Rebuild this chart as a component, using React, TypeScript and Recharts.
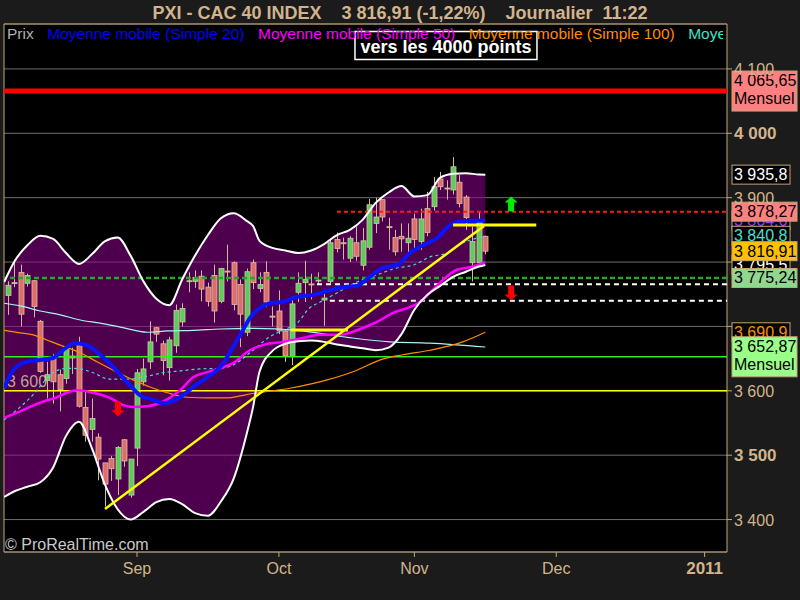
import React from 'react';
import {
  ComposedChart,
  Bar,
  Line,
  Area,
  XAxis,
  YAxis,
  CartesianGrid,
  ReferenceLine,
  ReferenceDot,
  ReferenceArea,
} from 'recharts';

// daily candles, index 0 = 4 Aug 2010, 74 = 16 Nov 2010
const opens = [
  3748, 3767, 3784, 3767, 3771, 3708, 3616, 3653, 3625, 3619,
  3654, 3670, 3574, 3540, 3528, 3488, 3495, 3463, 3524, 3438,
  3511, 3614, 3645, 3698, 3673, 3636, 3670, 3707, 3770, 3770,
  3778, 3761, 3779, 3739, 3786, 3799, 3765, 3691, 3799, 3759,
  3784, 3716, 3724, 3693, 3653, 3753, 3768, 3766, 3771, 3741,
  3770, 3835, 3830, 3806, 3830, 3795, 3823, 3860, 3897, 3855,
  3838, 3840, 3830, 3867, 3832, 3883, 3886, 3929, 3915, 3912,
  3924, 3901, 3799, 3799, 3840,
];
const closes = [
  3764, 3768, 3719, 3779, 3731, 3630, 3625, 3614, 3602, 3667,
  3651, 3576, 3531, 3557, 3494, 3455, 3479, 3512, 3491, 3494,
  3628, 3634, 3676, 3688, 3647, 3679, 3725, 3728, 3771, 3776,
  3758, 3739, 3724, 3790, 3785, 3734, 3719, 3785, 3768, 3765,
  3738, 3715, 3693, 3654, 3735, 3767, 3773, 3765, 3772, 3744,
  3830, 3821, 3829, 3837, 3809, 3833, 3889, 3870, 3870, 3854,
  3816, 3836, 3837, 3835, 3867, 3846, 3917, 3917, 3914, 3948,
  3891, 3869, 3832, 3863, 3816.91,
];
const highs = [
  3770, 3804, 3796, 3782, 3772, 3710, 3645, 3657, 3633, 3670,
  3667, 3684, 3599, 3588, 3534, 3488, 3499, 3514, 3525, 3494,
  3634, 3650, 3708, 3699, 3678, 3684, 3734, 3736, 3784, 3787,
  3787, 3768, 3796, 3791, 3827, 3801, 3773, 3790, 3804, 3784,
  3801, 3731, 3756, 3696, 3747, 3784, 3802, 3782, 3784, 3751,
  3835, 3846, 3838, 3840, 3855, 3853, 3898, 3900, 3897, 3869,
  3850, 3860, 3860, 3875, 3883, 3909, 3932, 3940, 3927, 3963,
  3935, 3904, 3855, 3878, 3841,
];
const lows = [
  3718, 3761, 3700, 3762, 3714, 3628, 3588, 3580, 3568, 3611,
  3626, 3574, 3521, 3521, 3461, 3420, 3460, 3438, 3482, 3434,
  3483, 3608, 3634, 3676, 3624, 3616, 3659, 3700, 3753, 3760,
  3739, 3731, 3706, 3736, 3770, 3725, 3668, 3685, 3758, 3753,
  3730, 3700, 3688, 3645, 3640, 3738, 3738, 3742, 3766, 3701,
  3767, 3815, 3804, 3800, 3802, 3787, 3819, 3845, 3863, 3819,
  3810, 3816, 3815, 3819, 3819, 3840, 3880, 3912, 3897, 3905,
  3885, 3850, 3770, 3793, 3812,
];

// Bollinger bands
const bandIdx = [
  -0.6, 1, 3, 5, 7, 9, 11, 13, 15, 17, 19, 21, 23, 25, 27, 29, 31, 33, 35, 37,
  38, 39, 41, 43, 45, 47, 49, 51, 53, 55, 57, 59, 61, 63, 65, 67, 69, 71, 73, 74,
];
const bandUpper = [
  3769, 3801, 3826, 3841, 3836, 3814, 3797, 3812, 3832, 3838, 3810, 3770, 3743, 3733, 3773, 3810, 3842, 3868, 3876, 3864,
  3856, 3833, 3822, 3818, 3814, 3818, 3828, 3842, 3850, 3866, 3892, 3908, 3918, 3902, 3904, 3931, 3937, 3938, 3936, 3935.8,
];
const bandLower = [
  3435, 3444, 3451, 3458, 3481, 3530, 3552, 3511, 3455, 3416, 3400, 3412, 3427, 3432, 3424, 3410, 3406, 3428, 3464, 3533,
  3575, 3630, 3662, 3673, 3677, 3678, 3676, 3672, 3669, 3666, 3663, 3667, 3688, 3726, 3749, 3763, 3777, 3785, 3793, 3795.5,
];

// moving averages: [index, value]
const ma20: [number, number][] = [
  [-0.6, 3604], [0.8, 3632], [2.9, 3645], [5, 3648], [7, 3651], [8.5, 3663], [10.4, 3674], [12.2, 3671],
  [14.3, 3656], [16.3, 3637], [18.4, 3614], [20.5, 3593], [22.5, 3586], [24, 3581], [26.7, 3590], [28.7, 3606],
  [30.9, 3621], [32.9, 3637], [34.9, 3668], [36.4, 3694], [37.5, 3713], [39.1, 3729], [40.6, 3736], [42.6, 3738],
  [44.8, 3746], [47.3, 3749], [49.5, 3755], [51.9, 3761], [54.1, 3763], [56.1, 3777], [58.1, 3791], [60.3, 3795],
  [62.3, 3814], [64.3, 3826], [66.5, 3837], [68.5, 3857], [69.6, 3862], [71.6, 3864], [74, 3864.6],
];
const ma50: [number, number][] = [
  [-0.6, 3558], [1.4, 3566], [3.4, 3575], [5.4, 3583], [7.6, 3590], [9.1, 3597], [10.7, 3601], [13.2, 3597],
  [15.8, 3589], [17.8, 3578], [19.4, 3575], [21.6, 3576], [24, 3583], [26.7, 3601], [28.7, 3621], [30.9, 3629],
  [32.9, 3635], [34.9, 3643], [37.5, 3663], [39.5, 3671], [42.6, 3676], [45.7, 3682], [48.4, 3687], [51.5, 3687],
  [54.1, 3694], [57.2, 3707], [59.7, 3721], [62.3, 3730], [63.9, 3738], [65.4, 3752], [67.4, 3772], [69.6, 3788],
  [71.6, 3792], [74, 3800],
];
const ma100: [number, number][] = [
  [-0.6, 3694], [1.9, 3690], [3.9, 3687], [6, 3679], [8.1, 3671], [11.2, 3659], [13.8, 3645], [16.3, 3632],
  [19.4, 3617], [22, 3606], [24.7, 3597], [27.8, 3590], [30.9, 3589], [34, 3589], [36, 3592], [37.5, 3595],
  [43.7, 3604], [49.5, 3617], [54.1, 3632], [57.7, 3648], [61.2, 3656], [65.4, 3663], [70.5, 3676], [74, 3690.9],
];
const ma200: [number, number][] = [
  [-0.6, 3736], [1.9, 3732], [5, 3724], [8.1, 3718], [11.2, 3710], [14.3, 3705], [17.4, 3699], [21.6, 3691],
  [24.7, 3693], [28.7, 3694], [32.9, 3696], [37.5, 3697], [44.8, 3694], [52.6, 3683], [59.2, 3676], [65.4, 3674],
  [74, 3668],
];
const cyanDash: [number, number][] = [
  [-0.6, 3555], [1.9, 3575], [3.9, 3594], [5.4, 3612], [7, 3628], [9.1, 3635], [11.2, 3634], [13.2, 3628],
  [15.8, 3618], [18.4, 3618], [20.9, 3621], [24, 3628], [26.7, 3631], [29.8, 3634], [32.9, 3635], [34.9, 3640],
  [37.5, 3659], [40.6, 3684], [42.6, 3694], [44.8, 3705], [46.8, 3729], [48.4, 3738], [51, 3752], [54.1, 3769],
  [57.2, 3780], [60.3, 3791], [62.8, 3795], [65.4, 3808], [68.1, 3814], [70.5, 3830], [72.7, 3837], [74, 3840.8],
];

const monthTicks = [20, 42, 63, 85, 108];
const monthLabels = ['Sep', 'Oct', 'Nov', 'Dec', '2011'];
const priceTicks = [3400, 3500, 3600, 3700, 3800, 3900, 4000, 4100];
const boldPrices = [3500, 4000];
const hiddenPrices = [3700, 3800];

const TAN = '#d2b48c';
const FRAME = '#c4a574';
const FONT = "'Liberation Sans', Arial, sans-serif";
const X_DOMAIN = [-0.62, 111.47];
const Y_DOMAIN = [3349.6, 4169.8];
const BODY_W = 5;

const candles = opens.map((o, i) => ({
  i,
  o,
  c: closes[i],
  h: highs[i],
  l: lows[i],
  range: [lows[i], highs[i]],
}));
const pts = (arr: [number, number][]) => arr.map(([i, v]) => ({ i, v }));
const band = bandIdx.map((i, k) => ({ i, lo: bandLower[k], hi: bandUpper[k], r: [bandLower[k], bandUpper[k]] }));

const fmt = (v: number) => {
  const s = String(v);
  return s.length > 1 ? s[0] + ' ' + s.slice(1) : s;
};

function Candle(props: any) {
  const { x, y, width, height, payload } = props;
  if (x == null || payload == null) return null;
  const top = Math.min(y, y + height);
  const h = Math.abs(height);
  const span = payload.h - payload.l || 1;
  const k = h / span;
  const yOf = (v: number) => top + (payload.h - v) * k;
  const bTop = yOf(Math.max(payload.o, payload.c));
  const bBot = yOf(Math.min(payload.o, payload.c));
  const up = payload.c >= payload.o;
  const cx = Math.round(x + (width || 0) / 2) + 0.5;
  return (
    <g>
      <line x1={cx} x2={cx} y1={top} y2={top + h} stroke="#cdbb9c" strokeWidth={1} />
      <rect
        x={cx - BODY_W / 2}
        y={bTop}
        width={BODY_W}
        height={Math.max(bBot - bTop, 1)}
        fill={up ? '#5ccc5c' : '#e06c6c'}
        stroke="#d6c4a4"
        strokeWidth={0.8}
      />
    </g>
  );
}

function PriceTag(props: any) {
  const { viewBox, lines, bg, fg, w } = props;
  if (!viewBox) return null;
  const x = viewBox.x + viewBox.width + 5;
  const h = lines.length > 1 ? 40 : 19;
  const top = viewBox.y - h / 2;
  return (
    <g>
      <rect x={x} y={top} width={w} height={h} fill={bg} stroke={FRAME} strokeWidth={1} />
      {lines.map((t: string, k: number) => (
        <text key={k} x={x + 2} y={top + 15 + k * 18} fill={fg} fontSize={16} fontFamily={FONT}>
          {t}
        </text>
      ))}
    </g>
  );
}

function LineLabel(props: any) {
  const { viewBox, text } = props;
  if (!viewBox) return null;
  return (
    <text x={viewBox.x + 3} y={viewBox.y - 4} fill="#d8c4a0" fillOpacity={0.85} fontSize={16} fontFamily={FONT}>
      {text}
    </text>
  );
}

const arrow = (dir: 'up' | 'down', color: string) => (p: any) => {
  const { cx, cy } = p;
  const s = dir === 'up' ? -1 : 1;
  const tip = cy + s * 7.5;
  const base = cy - s * 7.5;
  const neck = cy + s * 1.5;
  return (
    <path
      d={`M${cx - 3},${base} L${cx + 3},${base} L${cx + 3},${neck} L${cx + 6.5},${neck} L${cx},${tip} L${cx - 6.5},${neck} L${cx - 3},${neck} Z`}
      fill={color}
    />
  );
};

const noteBox = (p: any) => {
  const { cx, cy } = p;
  return (
    <g>
      <rect x={cx - 91} y={cy - 14} width={182} height={28} fill="#000" stroke="#fff" strokeWidth={1.5} />
      <text x={cx} y={cy + 7} textAnchor="middle" fill="#fff" fontSize={18} fontWeight="bold" fontFamily={FONT}>
        vers les 4000 points
      </text>
    </g>
  );
};

function PriceTick(props: any) {
  const { x, y, payload } = props;
  const v = payload.value;
  if (hiddenPrices.includes(v)) return null;
  const bold = boldPrices.includes(v);
  return (
    <text x={x} y={y} dy={6} fill={TAN} fontSize={bold ? 17 : 16} fontWeight={bold ? 'bold' : 'normal'} fontFamily={FONT}>
      {fmt(v)}
    </text>
  );
}

function MonthTick(props: any) {
  const { x, y, payload } = props;
  const k = monthTicks.indexOf(payload.value);
  const bold = k === monthTicks.length - 1;
  return (
    <text x={x} y={y + 15} textAnchor="middle" fill={TAN} fontSize={bold ? 17 : 16} fontWeight={bold ? 'bold' : 'normal'} fontFamily={FONT}>
      {monthLabels[k]}
    </text>
  );
}

const legendItems = [
  { text: 'Prix', color: '#b0b0b0' },
  { text: 'Moyenne mobile (Simple 20)', color: '#0000ff' },
  { text: 'Moyenne mobile (Simple 50)', color: '#ff00ff' },
  { text: 'Moyenne mobile (Simple 100)', color: '#ff8c00' },
  { text: 'Moyenne mobile (Simple 200)', color: '#40e0c8' },
];

export default function App() {
  return (
    <div style={{ position: 'absolute', left: 0, top: 0, width: 800, height: 600, background: '#1b1b1b', fontFamily: FONT }}>
      <ComposedChart
        width={800}
        height={600}
        data={candles}
        margin={{ top: 24, right: 3, bottom: 18, left: 4 }}
      >
        <CartesianGrid horizontal vertical={false} stroke="#6e6e6e" fill="#000" />
        <XAxis
          dataKey="i"
          type="number"
          domain={X_DOMAIN}
          allowDataOverflow
          ticks={monthTicks}
          tick={<MonthTick />}
          axisLine={false}
          tickLine={{ stroke: FRAME }}
          tickSize={5}
          height={30}
        />
        <YAxis
          orientation="right"
          type="number"
          domain={Y_DOMAIN}
          allowDataOverflow
          ticks={priceTicks}
          tick={<PriceTick />}
          axisLine={false}
          tickLine={{ stroke: FRAME }}
          tickSize={5}
          width={70}
        />
        <Area
          data={band}
          dataKey="r"
          type="monotone"
          stroke="none"
          fill="#8e008e"
          fillOpacity={0.55}
          isAnimationActive={false}
        />
        <ReferenceLine y={4065.65} stroke="#ff0000" strokeWidth={5} />
        <ReferenceLine y={3652.87} stroke="#33ee22" strokeWidth={1.5} />
        <ReferenceLine y={3600} stroke="#ffff00" strokeWidth={1.5} label={<LineLabel text="3 600" />} />
        <ReferenceLine y={3775.24} stroke="#22aa22" strokeWidth={2.5} strokeDasharray="5 3" />
        <ReferenceLine segment={[{ x: 47.9, y: 3765.5 }, { x: X_DOMAIN[1], y: 3765.5 }]} stroke="#ffffff" strokeWidth={2} strokeDasharray="5 4" />
        <ReferenceLine segment={[{ x: 49.9, y: 3740 }, { x: X_DOMAIN[1], y: 3740 }]} stroke="#ffffff" strokeWidth={2} strokeDasharray="5 4" />
        <ReferenceLine segment={[{ x: 51, y: 3878.27 }, { x: X_DOMAIN[1], y: 3878.27 }]} stroke="#ff1a1a" strokeWidth={2} strokeDasharray="4 3" />
        <Bar dataKey="range" barSize={BODY_W} shape={<Candle />} isAnimationActive={false} />
        <Line data={pts(ma200)} dataKey="v" type="monotone" stroke="#a8f4f4" strokeWidth={1.2} dot={false} isAnimationActive={false} />
        <Line data={pts(ma100)} dataKey="v" type="monotone" stroke="#ff8c00" strokeWidth={1.2} dot={false} isAnimationActive={false} />
        <Line data={pts(cyanDash)} dataKey="v" type="monotone" stroke="#40e0d0" strokeWidth={1.2} strokeDasharray="3 3" dot={false} isAnimationActive={false} />
        <Line data={pts(ma50)} dataKey="v" type="monotone" stroke="#ff00ff" strokeWidth={2.5} dot={false} isAnimationActive={false} />
        <Line data={pts(ma20)} dataKey="v" type="monotone" stroke="#0a14ff" strokeWidth={4} dot={false} isAnimationActive={false} />
        <Line data={band} dataKey="hi" type="monotone" stroke="#ffffff" strokeWidth={2} dot={false} isAnimationActive={false} />
        <Line data={band} dataKey="lo" type="monotone" stroke="#ffffff" strokeWidth={2} dot={false} isAnimationActive={false} />
        <ReferenceLine segment={[{ x: 15.04, y: 3416.5 }, { x: 73.8, y: 3856 }]} stroke="#ffff00" strokeWidth={2.5} />
        <ReferenceLine segment={[{ x: 69, y: 3857.6 }, { x: 81.9, y: 3857.6 }]} stroke="#ffff00" strokeWidth={3} />
        <ReferenceLine segment={[{ x: 43.9, y: 3694.5 }, { x: 52.7, y: 3694.5 }]} stroke="#ffff00" strokeWidth={3} />
        <ReferenceDot x={78} y={3890} r={7} shape={arrow('up', '#00ee00')} />
        <ReferenceDot x={78} y={3752} r={7} shape={arrow('down', '#ff0000')} />
        <ReferenceDot x={17.05} y={3572} r={7} shape={arrow('down', '#ff0000')} />
        <ReferenceDot x={67.9} y={4136.4} r={10} shape={noteBox} />
        <ReferenceLine y={4065.65} stroke="none" label={<PriceTag lines={['4 065,65', 'Mensuel']} bg="#ff8080" fg="#000" w={65} />} />
        <ReferenceLine y={3935.8} stroke="none" label={<PriceTag lines={['3 935,8']} bg="#000" fg="#fff" w={58} />} />
        <ReferenceLine y={3864.6} stroke="none" label={<PriceTag lines={['3 864,6']} bg="#000" fg="#8a40ff" w={58} />} />
        <ReferenceLine y={3840.8} stroke="none" label={<PriceTag lines={['3 840,8']} bg="#000" fg="#40e0d0" w={58} />} />
        <ReferenceLine y={3878.27} stroke="none" label={<PriceTag lines={['3 878,27']} bg="#ff8080" fg="#000" w={65} />} />
        <ReferenceLine y={3795.5} stroke="none" label={<PriceTag lines={['3 795,5']} bg="#000" fg="#fff" w={58} />} />
        <ReferenceLine y={3816.91} stroke="none" label={<PriceTag lines={['3 816,91']} bg="#ffc000" fg="#000" w={65} />} />
        <ReferenceLine y={3775.24} stroke="none" label={<PriceTag lines={['3 775,24']} bg="#90d890" fg="#000" w={65} />} />
        <ReferenceLine y={3690.9} stroke="none" label={<PriceTag lines={['3 690,9']} bg="#000" fg="#ff8c00" w={58} />} />
        <ReferenceLine y={3652.87} stroke="none" label={<PriceTag lines={['3 652,87', 'Mensuel']} bg="#99ff88" fg="#000" w={65} />} />
        <ReferenceArea
          x1={X_DOMAIN[0]}
          x2={X_DOMAIN[1]}
          y1={Y_DOMAIN[0]}
          y2={Y_DOMAIN[1]}
          fill="none"
          stroke={FRAME}
          strokeWidth={1}
          ifOverflow="visible"
        />
      </ComposedChart>
      <div
        style={{
          position: 'absolute',
          left: 0,
          top: 2,
          width: 800,
          textAlign: 'center',
          color: TAN,
          fontSize: 18,
          fontWeight: 'bold',
          lineHeight: '22px',
          whiteSpace: 'pre',
        }}
      >
        {'PXI - CAC 40 INDEX    3 816,91 (-1,22%)    Journalier  11:22'}
      </div>
      <div
        style={{
          position: 'absolute',
          left: 7,
          top: 25,
          width: 716,
          overflow: 'hidden',
          whiteSpace: 'nowrap',
          fontSize: 15.5,
          lineHeight: '17px',
        }}
      >
        {legendItems.map((it) => (
          <span key={it.text} style={{ color: it.color, marginRight: 13.5 }}>
            {it.text}
          </span>
        ))}
      </div>
      <div style={{ position: 'absolute', left: 5, top: 536, color: '#c8c8c8', fontSize: 16, lineHeight: '18px' }}>
        © ProRealTime.com
      </div>
    </div>
  );
}
